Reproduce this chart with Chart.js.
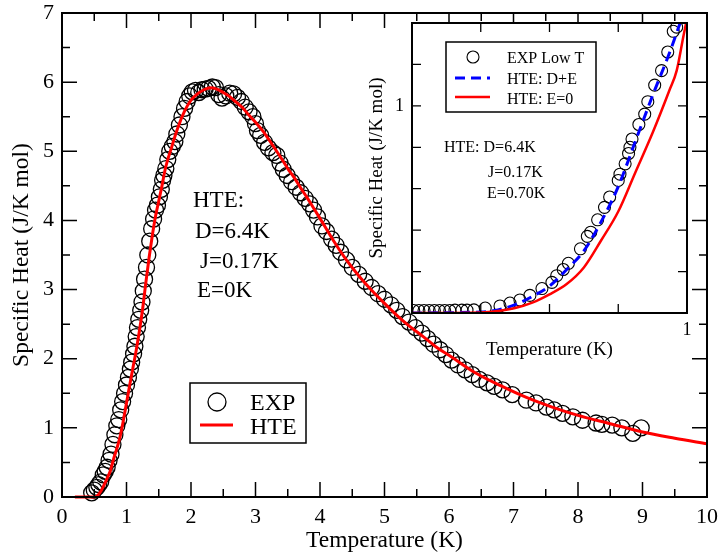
<!DOCTYPE html>
<html>
<head>
<meta charset="utf-8">
<script src="https://cdn.jsdelivr.net/npm/chart.js@4.4.1/dist/chart.umd.min.js"></script>
<style>
  body { margin: 0; background: #fff; }
  #wrap { position: relative; width: 718px; height: 555px; }
  #wrap canvas { position: absolute; left: 0; top: 0; }
</style>
</head>
<body>
<div id="wrap">
  <canvas id="mainChart" width="718" height="555"></canvas>
  <canvas id="insetChart" width="718" height="555"></canvas>
</div>
<script>
// Main panel: measured specific heat (circles)
const expT = [0.46, 0.50, 0.54, 0.57, 0.60, 0.64, 0.67, 0.70, 0.73, 0.76, 0.79, 0.82, 0.85, 0.88, 0.91, 0.94,
  0.97, 1.00, 1.03, 1.06, 1.08, 1.11, 1.13, 1.15, 1.17, 1.19, 1.22, 1.24, 1.26, 1.28, 1.31, 1.33, 1.36, 1.39,
  1.42, 1.45, 1.48, 1.51, 1.54, 1.56, 1.58, 1.61, 1.64, 1.67, 1.71, 1.75, 1.78, 1.82, 1.86, 1.90, 1.94, 1.98,
  2.02, 2.07, 2.12, 2.17, 2.22, 2.27, 2.33, 2.38, 2.43, 2.48, 2.54, 2.60, 2.66, 2.72, 2.78, 2.84, 2.90, 2.96,
  3.00, 3.03, 3.08, 3.14, 3.20, 3.27, 3.33, 3.38, 3.43, 3.49, 3.56, 3.63, 3.70, 3.77, 3.84, 3.90, 3.96, 4.03,
  4.10, 4.18, 4.25, 4.32, 4.41, 4.50, 4.60, 4.70, 4.80, 4.90, 5.00, 5.10, 5.19, 5.28, 5.38, 5.48, 5.58, 5.67,
  5.76, 5.86, 5.95, 6.04, 6.14, 6.25, 6.36, 6.47, 6.59, 6.70, 6.83, 6.98, 7.20, 7.35, 7.51, 7.63, 7.76, 7.92,
  8.07, 8.28, 8.37, 8.53, 8.68, 8.85, 8.98];
const expC = [0.06, 0.10, 0.14, 0.18, 0.22, 0.32, 0.37, 0.43, 0.53, 0.62, 0.76, 0.90, 1.03, 1.12, 1.26, 1.38,
  1.50, 1.62, 1.73, 1.85, 1.95, 2.07, 2.18, 2.32, 2.45, 2.57, 2.70, 2.82, 2.98, 3.15, 3.32, 3.50, 3.70, 3.88,
  4.02, 4.15, 4.22, 4.34, 4.45, 4.58, 4.65, 4.75, 4.88, 5.00, 5.07, 5.14, 5.25, 5.38, 5.50, 5.62, 5.72, 5.80,
  5.86, 5.88, 5.85, 5.89, 5.90, 5.91, 5.93, 5.92, 5.82, 5.77, 5.80, 5.84, 5.83, 5.78, 5.72, 5.64, 5.57, 5.50,
  5.40, 5.30, 5.23, 5.13, 5.05, 4.98, 4.94, 4.83, 4.74, 4.65, 4.56, 4.48, 4.40, 4.32, 4.24, 4.15, 4.05, 3.92,
  3.84, 3.73, 3.64, 3.54, 3.43, 3.32, 3.22, 3.12, 3.03, 2.94, 2.86, 2.78, 2.70, 2.61, 2.53, 2.45, 2.37, 2.29,
  2.21, 2.13, 2.06, 1.98, 1.91, 1.84, 1.77, 1.70, 1.65, 1.60, 1.55, 1.48, 1.40, 1.36, 1.30, 1.26, 1.21, 1.16,
  1.11, 1.07, 1.05, 1.04, 1.00, 0.92, 1.00];

// Main panel: HTE fit (red line)
const hteT = [0.20, 0.50, 0.55, 0.60, 0.65, 0.70, 0.75, 0.80, 0.85, 0.90, 0.95, 1.00, 1.05, 1.10, 1.15, 1.20,
  1.25, 1.30, 1.35, 1.40, 1.45, 1.50, 1.55, 1.60, 1.70, 1.80, 1.90, 2.00, 2.10, 2.20, 2.30, 2.40, 2.50, 2.60,
  2.70, 2.80, 2.90, 3.00, 3.10, 3.20, 3.30, 3.40, 3.50, 3.60, 3.70, 3.80, 3.90, 4.00, 4.20, 4.40, 4.60, 4.80,
  5.00, 5.20, 5.40, 5.60, 5.80, 6.00, 6.40, 6.80, 7.20, 7.60, 8.00, 8.50, 9.00, 9.50, 10.0];
const hteC = [0.00, 0.00, 0.02, 0.08, 0.17, 0.27, 0.38, 0.55, 0.70, 0.87, 1.10, 1.36, 1.62, 1.87, 2.12, 2.40,
  2.72, 3.10, 3.46, 3.78, 4.06, 4.28, 4.50, 4.74, 5.06, 5.35, 5.58, 5.74, 5.83, 5.89, 5.92, 5.90, 5.85, 5.79,
  5.71, 5.63, 5.52, 5.42, 5.31, 5.18, 5.04, 4.90, 4.75, 4.62, 4.47, 4.33, 4.18, 4.03, 3.72, 3.44, 3.20, 2.99,
  2.80, 2.62, 2.46, 2.32, 2.17, 2.05, 1.80, 1.61, 1.44, 1.30, 1.18, 1.06, 0.94, 0.85, 0.77];

// Inset: low temperature data and the two HTE curves
const lowT = [0.205, 0.220, 0.235, 0.250, 0.265, 0.280, 0.295, 0.310, 0.325, 0.345, 0.360, 0.380, 0.413, 0.456,
  0.485, 0.514, 0.543, 0.578, 0.607, 0.621, 0.640, 0.655, 0.690, 0.710, 0.720, 0.740, 0.760, 0.775, 0.800,
  0.805, 0.820, 0.830, 0.834, 0.840, 0.860, 0.877, 0.886, 0.906, 0.926, 0.944, 0.960, 0.970];
const lowC = [0.012, 0.012, 0.012, 0.012, 0.012, 0.012, 0.012, 0.012, 0.014, 0.014, 0.014, 0.015, 0.024, 0.034,
  0.048, 0.063, 0.085, 0.118, 0.148, 0.180, 0.210, 0.240, 0.310, 0.370, 0.390, 0.450, 0.510, 0.560, 0.640,
  0.670, 0.720, 0.770, 0.800, 0.840, 0.910, 0.960, 1.020, 1.100, 1.170, 1.260, 1.360, 1.380];
const hteDET = [0.20, 0.40, 0.45, 0.50, 0.55, 0.60, 0.65, 0.70, 0.75, 0.80, 0.85, 0.90, 0.95, 0.98];
const hteDEC = [0.00, 0.005, 0.015, 0.04, 0.08, 0.13, 0.21, 0.30, 0.44, 0.61, 0.83, 1.05, 1.26, 1.40];
const hteE0T = [0.20, 0.40, 0.45, 0.50, 0.55, 0.60, 0.65, 0.70, 0.75, 0.80, 0.85, 0.90, 0.95, 0.97, 0.99, 1.00];
const hteE0C = [0.00, 0.003, 0.01, 0.024, 0.05, 0.09, 0.14, 0.22, 0.35, 0.49, 0.68, 0.87, 1.08, 1.17, 1.34, 1.42];

// Tick labels
const mainXTicks = [0, 1, 2, 3, 4, 5, 6, 7, 8, 9, 10];
const mainYTicks = [0, 1, 2, 3, 4, 5, 6, 7];
const insetXTicks = [0.2, 0.4, 0.6, 0.8, 1.0];
const insetYTicks = [0, 0.2, 0.4, 0.6, 0.8, 1.0, 1.2, 1.4];
const insetLabelled = [1];

const serif = "'Liberation Serif', 'Times New Roman', serif";
const pts = (xs, ys) => xs.map((x, i) => ({ x: x, y: ys[i] }));

// Frame and inward tick marks on all four sides
const frameTicks = {
  id: 'frameTicks',
  afterDraw(chart, args, o) {
    const { ctx, chartArea: a, scales: { x, y } } = chart;
    ctx.save();
    ctx.strokeStyle = '#000';
    ctx.lineWidth = o.tickWidth;
    ctx.beginPath();
    o.xMarks.forEach(([v, len]) => {
      const p = x.getPixelForValue(v);
      ctx.moveTo(p, a.bottom); ctx.lineTo(p, a.bottom - len);
      ctx.moveTo(p, a.top); ctx.lineTo(p, a.top + len);
    });
    o.yMarks.forEach(([v, len]) => {
      const p = y.getPixelForValue(v);
      ctx.moveTo(a.left, p); ctx.lineTo(a.left + len, p);
      ctx.moveTo(a.right, p); ctx.lineTo(a.right - len, p);
    });
    ctx.stroke();
    ctx.lineWidth = o.frameWidth;
    ctx.strokeRect(a.left, a.top, a.width, a.height);
    ctx.restore();
  }
};

// Legend box and free text
const notes = {
  id: 'notes',
  afterDraw(chart, args, o) {
    const ctx = chart.ctx;
    ctx.save();
    ctx.fillStyle = '#000';
    ctx.textBaseline = 'alphabetic';
    ctx.font = o.textSize + 'px ' + serif;
    o.texts.forEach(t => ctx.fillText(t.text, t.x, t.y));

    const L = o.legend;
    ctx.lineWidth = L.frame;
    ctx.strokeStyle = '#000';
    ctx.strokeRect(L.x, L.y, L.w, L.h);
    ctx.font = L.size + 'px ' + serif;
    L.items.forEach(it => {
      const ds = chart.data.datasets[it.ds];
      ctx.beginPath();
      if (it.circle) {
        ctx.lineWidth = ds.pointBorderWidth;
        ctx.strokeStyle = ds.pointBorderColor;
        ctx.arc(it.sx + it.r, it.sy, it.r, 0, Math.PI * 2);
      } else {
        ctx.lineWidth = ds.borderWidth;
        ctx.strokeStyle = ds.borderColor;
        ctx.setLineDash(ds.borderDash || []);
        ctx.moveTo(it.sx, it.sy);
        ctx.lineTo(it.sx + it.len, it.sy);
      }
      ctx.stroke();
      ctx.setLineDash([]);
      ctx.fillText(ds.label, L.textX, it.base);
    });
    ctx.restore();
  }
};

// Inset plot area is opaque
const whiteArea = {
  id: 'whiteArea',
  beforeDraw(chart) {
    const { ctx, chartArea: a } = chart;
    ctx.save();
    ctx.fillStyle = '#fff';
    ctx.fillRect(a.left, a.top, a.width, a.height);
    ctx.restore();
  }
};

function marks(list, minorStep, majorLen, minorLen) {
  const out = [];
  list.forEach((v, i) => {
    out.push([v, majorLen]);
    if (minorStep && i < list.length - 1) out.push([v + minorStep, minorLen]);
  });
  return out;
}

new Chart(document.getElementById('mainChart'), {
  type: 'scatter',
  data: {
    datasets: [{
      label: 'EXP',
      data: pts(expT, expC),
      pointStyle: 'circle',
      pointRadius: 8,
      pointBorderWidth: 1.3,
      pointBorderColor: '#000',
      pointBackgroundColor: 'rgba(0,0,0,0)',
      clip: false,
      order: 2
    }, {
      label: 'HTE',
      data: pts(hteT, hteC),
      showLine: true,
      pointRadius: 0,
      borderColor: '#ff0000',
      borderWidth: 3,
      cubicInterpolationMode: 'monotone',
      clip: false,
      order: 1
    }]
  },
  options: {
    responsive: false,
    animation: false,
    devicePixelRatio: 1,
    layout: { padding: { top: 13, right: 11, left: 0, bottom: 0 } },
    plugins: {
      legend: { display: false },
      tooltip: { enabled: false },
      frameTicks: {
        tickWidth: 1.5, frameWidth: 2,
        xMarks: marks(mainXTicks, 0.5, 15, 8),
        yMarks: marks(mainYTicks, 0.5, 15, 8)
      },
      notes: {
        textSize: 23,
        texts: [
          { text: 'HTE:', x: 193, y: 207 },
          { text: 'D=6.4K', x: 195, y: 238 },
          { text: 'J=0.17K', x: 200, y: 268 },
          { text: 'E=0K', x: 197, y: 297 }
        ],
        legend: {
          x: 190, y: 383, w: 116, h: 60, frame: 1.5, size: 24, textX: 250,
          items: [
            { ds: 0, circle: true, sx: 208, sy: 402, r: 9, base: 410 },
            { ds: 1, sx: 200, sy: 425, len: 33, base: 434 }
          ]
        }
      }
    },
    scales: {
      x: {
        type: 'linear', min: 0, max: 10,
        afterBuildTicks: s => { s.ticks = mainXTicks.map(v => ({ value: v })); },
        afterFit: s => { s.height = 58; s.paddingLeft = 0; s.paddingRight = 0; },
        grid: { display: false, drawTicks: false },
        border: { display: false },
        ticks: { font: { family: serif, size: 22 }, color: '#000', padding: 7, maxRotation: 0, autoSkip: false },
        title: { display: true, text: 'Temperature (K)', font: { family: serif, size: 23.5 }, color: '#000', padding: { top: 0, bottom: 0 } }
      },
      y: {
        type: 'linear', min: 0, max: 7,
        afterBuildTicks: s => { s.ticks = mainYTicks.map(v => ({ value: v })); },
        afterFit: s => { s.width = 62; s.paddingTop = 0; s.paddingBottom = 0; },
        grid: { display: false, drawTicks: false },
        border: { display: false },
        ticks: { font: { family: serif, size: 22 }, color: '#000', padding: 8, autoSkip: false },
        title: { display: true, text: 'Specific Heat (J/K mol)', font: { family: serif, size: 23.5 }, color: '#000', padding: { top: 8, bottom: 0 } }
      }
    }
  },
  plugins: [frameTicks, notes]
});

new Chart(document.getElementById('insetChart'), {
  type: 'scatter',
  data: {
    datasets: [{
      label: 'EXP Low T',
      data: pts(lowT, lowC),
      pointStyle: 'circle',
      pointRadius: 6,
      pointBorderWidth: 1.1,
      pointBorderColor: '#000',
      pointBackgroundColor: 'rgba(0,0,0,0)',
      order: 3
    }, {
      label: 'HTE: D+E',
      data: pts(hteDET, hteDEC),
      showLine: true,
      pointRadius: 0,
      borderColor: '#0000ff',
      borderWidth: 3,
      borderDash: [10, 6],
      cubicInterpolationMode: 'monotone',
      order: 2
    }, {
      label: 'HTE: E=0',
      data: pts(hteE0T, hteE0C),
      showLine: true,
      pointRadius: 0,
      borderColor: '#ff0000',
      borderWidth: 2.5,
      cubicInterpolationMode: 'monotone',
      order: 1
    }]
  },
  options: {
    responsive: false,
    animation: false,
    devicePixelRatio: 1,
    layout: { padding: { top: 23, right: 31, left: 362, bottom: 192 } },
    plugins: {
      legend: { display: false },
      tooltip: { enabled: false },
      frameTicks: {
        tickWidth: 1.3, frameWidth: 2,
        xMarks: marks(insetXTicks, 0, 9, 9),
        yMarks: marks(insetYTicks, 0, 9, 9)
      },
      notes: {
        textSize: 16,
        texts: [
          { text: 'HTE: D=6.4K', x: 444, y: 152 },
          { text: 'J=0.17K', x: 488, y: 177 },
          { text: 'E=0.70K', x: 487, y: 198 }
        ],
        legend: {
          x: 446, y: 42, w: 150, h: 70, frame: 1.5, size: 16, textX: 507,
          items: [
            { ds: 0, circle: true, sx: 467, sy: 57, r: 6, base: 63 },
            { ds: 1, sx: 455, sy: 78, len: 35, base: 84 },
            { ds: 2, sx: 455, sy: 97, len: 35, base: 104 }
          ]
        }
      }
    },
    scales: {
      x: {
        type: 'linear', min: 0.2, max: 1.0,
        afterBuildTicks: s => { s.ticks = insetXTicks.map(v => ({ value: v })); },
        afterFit: s => { s.height = 50; s.paddingLeft = 0; s.paddingRight = 0; },
        grid: { display: false, drawTicks: false },
        border: { display: false },
        ticks: {
          font: { family: serif, size: 18 }, color: '#000', padding: 6, maxRotation: 0, autoSkip: false,
          callback: v => insetLabelled.some(l => Math.abs(l - v) < 1e-6) ? String(v) : ''
        },
        title: { display: true, text: 'Temperature (K)', font: { family: serif, size: 19 }, color: '#000', padding: { top: 0, bottom: 2 } }
      },
      y: {
        type: 'linear', min: 0, max: 1.4,
        afterBuildTicks: s => { s.ticks = insetYTicks.map(v => ({ value: v })); },
        afterFit: s => { s.width = 50; s.paddingTop = 0; s.paddingBottom = 0; },
        grid: { display: false, drawTicks: false },
        border: { display: false },
        ticks: {
          font: { family: serif, size: 18 }, color: '#000', padding: 8, autoSkip: false,
          callback: v => insetLabelled.some(l => Math.abs(l - v) < 1e-6) ? String(v) : ''
        },
        title: { display: true, text: 'Specific Heat (J/K mol)', font: { family: serif, size: 19 }, color: '#000', padding: { top: 4, bottom: 0 } }
      }
    }
  },
  plugins: [whiteArea, frameTicks, notes]
});
</script>
</body>
</html>
